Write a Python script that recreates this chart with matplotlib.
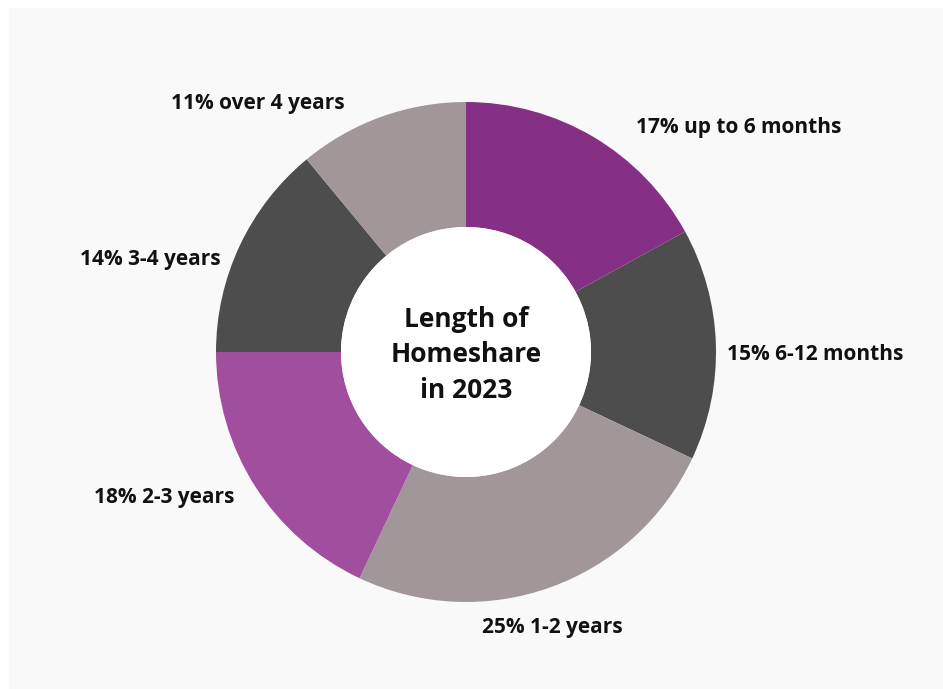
import matplotlib.pyplot as plt
from matplotlib.patches import Circle, Rectangle

categories = ["up to 6 months", "6-12 months", "1-2 years", "2-3 years", "3-4 years", "over 4 years"]
shares = [17, 15, 25, 18, 14, 11]
colors = ["#863085", "#4d4d4d", "#a19799", "#a24e9e", "#4d4d4d", "#a19799"]

# label anchors in pixel space (x from left, y from top) and alignment
label_pos = [(636, 127, "left"), (727, 354, "left"), (552, 628, "center"),
             (164, 497, "center"), (150, 260, "center"), (258, 104, "center")]

W, H = 943, 689
fig = plt.figure(figsize=(W / 100, H / 100), dpi=100)
fig.patch.set_facecolor("white")
ax = fig.add_axes([0, 0, 1, 1])

ax.add_patch(Rectangle((9, 0), W - 9, H - 8, facecolor="#f9f9f9", edgecolor="none", zorder=0))

cx, cy = 466, H - 352
ax.pie(shares, colors=colors, startangle=90, counterclock=False,
       center=(cx, cy), radius=250, frame=True,
       wedgeprops=dict(width=125, edgecolor="none", linewidth=0))
ax.add_patch(Circle((cx, cy), 125, facecolor="white", edgecolor="none", zorder=3))
ax.set_xlim(0, W)
ax.set_ylim(0, H)
ax.set_aspect("equal")
ax.axis("off")

font = ["Open Sans", "DejaVu Sans"]
for share, cat, (x, y, ha) in zip(shares, categories, label_pos):
    ax.text(x, H - y, f"{share}% {cat}", ha=ha, va="center", fontsize=15,
            fontweight="bold", family=font, color="#111111", zorder=4)

ax.text(cx, cy - 3, "Length of\nHomeshare\nin 2023", ha="center", va="center",
        fontsize=19, fontweight="bold", family=font, color="#111111",
        linespacing=1.42, zorder=4)

fig.savefig("out.png", dpi=100, facecolor=fig.get_facecolor())
